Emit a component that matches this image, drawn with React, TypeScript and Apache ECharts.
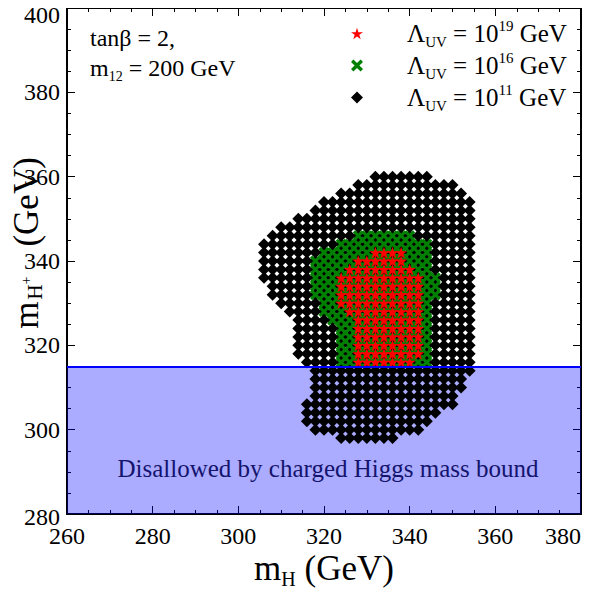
import React, { useEffect, useRef } from "react";
import * as echarts from "echarts";

// Axis ranges and ticks
const X_MIN = 260;
const X_MAX = 380;
const Y_MIN = 280;
const Y_MAX = 400;
const TICK_STEP = 20;

// Scan grid step (GeV)
const GRID_STEP = 2;

// Charged Higgs mass bound (GeV)
const MASS_BOUND = 315;

// Rows of allowed scan points: [m_H+ , first m_H , last m_H]
const rows11: [number, number, number][] = [
  [360, 332, 344],
  [358, 328, 350],
  [356, 324, 352],
  [354, 320, 354],
  [352, 318, 354],
  [350, 314, 354],
  [348, 310, 354],
  [346, 308, 354],
  [344, 306, 354],
  [342, 306, 354],
  [340, 306, 354],
  [338, 306, 354],
  [336, 306, 354],
  [334, 308, 354],
  [332, 308, 354],
  [330, 310, 354],
  [328, 312, 354],
  [326, 314, 354],
  [324, 314, 354],
  [322, 314, 354],
  [320, 314, 354],
  [318, 314, 354],
  [316, 316, 354],
  [314, 318, 354],
  [312, 318, 352],
  [310, 318, 352],
  [308, 318, 350],
  [306, 316, 350],
  [304, 316, 346],
  [302, 316, 344],
  [300, 318, 342],
  [298, 324, 336],
];

const rows16: [number, number, number][] = [
  [346, 328, 340],
  [344, 324, 344],
  [342, 320, 344],
  [340, 318, 344],
  [338, 318, 344],
  [336, 318, 346],
  [334, 318, 346],
  [332, 318, 346],
  [330, 320, 344],
  [328, 320, 344],
  [326, 322, 344],
  [324, 324, 344],
  [322, 324, 344],
  [320, 324, 344],
  [318, 324, 344],
  [316, 324, 344],
];

const rows19: [number, number, number][] = [
  [342, 332, 338],
  [340, 328, 338],
  [338, 326, 340],
  [336, 324, 342],
  [334, 324, 342],
  [332, 324, 342],
  [330, 324, 342],
  [328, 326, 342],
  [326, 328, 342],
  [324, 328, 342],
  [322, 328, 342],
  [320, 328, 342],
  [318, 328, 342],
  [316, 328, 340],
];

const FONT = "Liberation Serif";

const STAR =
  "path://M5,0 L6.18,3.62 L10,3.62 L6.91,5.86 L8.09,9.5 L5,7.26 L1.91,9.5 L3.09,5.86 L0,3.62 L3.82,3.62 Z";
const CROSS =
  "path://M0,2 L2,0 L5,3 L8,0 L10,2 L7,5 L10,8 L8,10 L5,7 L2,10 L0,8 L3,5 Z";
const DIAMOND = "path://M5,0 L10,5 L5,10 L0,5 Z";

function expand(rows: [number, number, number][]) {
  const pts: number[][] = [];
  for (const [y, a, b] of rows) {
    for (let x = a; x <= b + 1e-9; x += GRID_STEP) pts.push([x, y]);
  }
  return pts;
}

export default function App() {
  const ref = useRef<HTMLDivElement>(null);
  useEffect(() => {
    if (!ref.current) return;
    const chart = echarts.init(ref.current, undefined, { renderer: "svg" });
    const txt = (size: number, extra: Record<string, unknown> = {}) => ({
      fontFamily: FONT,
      fontSize: size,
      fontWeight: "normal",
      fontStyle: "normal",
      color: "#000",
      ...extra,
    });
    const axisCommon = {
      type: "value" as const,
      interval: TICK_STEP,
      axisLine: { show: true, lineStyle: { color: "#000", width: 2 } },
      axisTick: { show: true, inside: true, length: 8, lineStyle: { color: "#000", width: 1 } },
      minorTick: { show: true, splitNumber: 4, length: 4, lineStyle: { color: "#000", width: 1 } },
      splitLine: { show: false },
    };
    const legendRich = {
      pad: { width: 39, lineHeight: 31 },
      a: txt(25, { lineHeight: 31 }),
      sub: txt(15, { lineHeight: 18, verticalAlign: "bottom" }),
      sup: txt(15, { lineHeight: 18, verticalAlign: "top" }),
    };
    chart.setOption({
      animation: false,
      backgroundColor: "#fff",
      textStyle: { fontFamily: FONT, fontWeight: "normal" },
      grid: { left: 67, right: 9, top: 8, bottom: 76, outerBoundsMode: "none", containLabel: false },
      title: {
        left: 85,
        top: 18,
        text: "{a|tanβ = 2,}\n{a|m}{sub|12}{a| = 200 GeV}",
        textStyle: {
          ...txt(24),
          rich: {
            a: txt(24, { lineHeight: 30 }),
            sub: txt(14, { lineHeight: 20, verticalAlign: "bottom" }),
          },
        },
      },
      legend: {
        orient: "vertical",
        left: 351,
        top: 18,
        padding: 0,
        itemWidth: 12,
        itemHeight: 12,
        itemGap: 1,
        data: [
          { name: "19", icon: STAR, itemStyle: { color: "#ff0000" } },
          { name: "16", icon: CROSS, itemStyle: { color: "#008000" } },
          { name: "11", icon: DIAMOND, itemStyle: { color: "#000" } },
        ],
        formatter: (n: string) => `{pad|}{a|Λ}{sub|UV}{a| = 10}{sup|${n}}{a| GeV}`,
        textStyle: { ...txt(25), rich: legendRich },
      },
      xAxis: [
        {
          ...axisCommon,
          min: X_MIN,
          max: X_MAX,
          position: "bottom",
          axisLabel: { ...txt(24), margin: 10, alignMaxLabel: "right" },
          name: "{m|m}{sub|H}{m| (GeV)}",
          nameLocation: "middle",
          nameGap: 37,
          nameMoveOverlap: false,
          nameTextStyle: {
            ...txt(35),
            rich: {
              m: txt(35, { lineHeight: 26, verticalAlign: "top" }),
              sub: txt(20, { lineHeight: 38, verticalAlign: "bottom" }),
            },
          },
        },
        { ...axisCommon, min: X_MIN, max: X_MAX, position: "top", axisLabel: { show: false } },
      ],
      yAxis: [
        {
          ...axisCommon,
          min: Y_MIN,
          max: Y_MAX,
          position: "left",
          axisLabel: {
            ...txt(24),
            margin: 7,
            formatter: (v: number) =>
              v === Y_MAX ? `{t|${v}}` : v === Y_MIN ? `{b|${v}}` : `${v}`,
            rich: {
              t: txt(24, { padding: [14, 0, 0, 0] }),
              b: txt(24, { padding: [5, 0, 0, 0] }),
            },
          },
          name: "{m|m}{sub|H}{sup|+}{sp|}{m|(GeV)}",
          nameLocation: "middle",
          nameRotate: 90,
          nameGap: 22,
          nameMoveOverlap: false,
          nameTextStyle: {
            ...txt(35),
            padding: [0, 0, 0, 36],
            rich: {
              m: txt(35, { lineHeight: 38 }),
              sub: txt(21, { lineHeight: 26, verticalAlign: "bottom", padding: [0, 0, 0, 2] }),
              sup: txt(14, { lineHeight: 38, verticalAlign: "middle" }),
              sp: { width: 30, lineHeight: 38 },
            },
          },
        },
        { ...axisCommon, min: Y_MIN, max: Y_MAX, position: "right", axisLabel: { show: false } },
      ],
      series: [
        {
          name: "11",
          type: "scatter",
          symbol: DIAMOND,
          symbolSize: 12,
          itemStyle: { color: "#000", opacity: 1 },
          data: expand(rows11),
          z: 2,
        },
        {
          name: "16",
          type: "scatter",
          symbol: CROSS,
          symbolSize: 11,
          itemStyle: { color: "#008000", opacity: 1 },
          data: expand(rows16),
          z: 3,
        },
        {
          name: "19",
          type: "scatter",
          symbol: STAR,
          symbolSize: 12,
          itemStyle: { color: "#ff0000", opacity: 1 },
          data: expand(rows19),
          z: 4,
        },
        {
          name: "bound",
          type: "line",
          data: [],
          z: 10,
          markArea: {
            silent: true,
            itemStyle: { color: "rgba(0,0,255,0.33)" },
            label: {
              show: true,
              position: "insideBottom",
              distance: 33,
              padding: [0, 0, 0, 8],
              ...txt(25, { color: "#14146e" }),
            },
            data: [[{ yAxis: Y_MIN, name: "Disallowed by charged Higgs mass bound" }, { yAxis: MASS_BOUND }]],
          },
          markLine: {
            silent: true,
            symbol: "none",
            label: { show: false },
            lineStyle: { color: "#0000ff", width: 2, type: "solid" },
            data: [{ yAxis: MASS_BOUND }],
          },
        },
      ],
    });
    return () => chart.dispose();
  }, []);
  return <div ref={ref} style={{ width: 590, height: 590, marginLeft: -8, marginTop: -8 }} />;
}
